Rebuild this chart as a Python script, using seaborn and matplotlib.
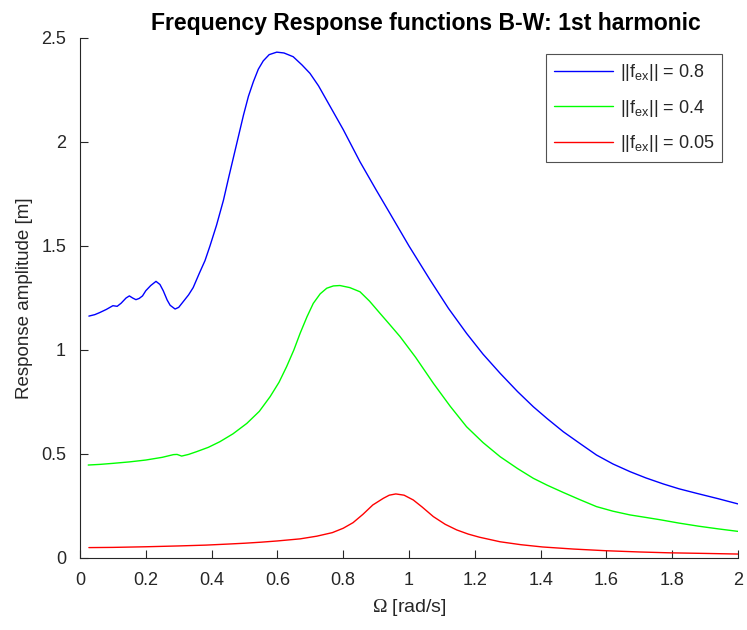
import matplotlib
matplotlib.use("Agg")
import matplotlib.pyplot as plt
import seaborn as sns
import pandas as pd

# ---- data ----
omega_blue = [0.027, 0.045, 0.06, 0.08, 0.10, 0.113, 0.125, 0.14, 0.15, 0.16, 0.17, 0.18,
              0.19, 0.20, 0.215, 0.231, 0.243, 0.253, 0.265, 0.274, 0.289, 0.30, 0.314,
              0.33, 0.344, 0.363, 0.38, 0.395, 0.415, 0.436, 0.452, 0.467, 0.482, 0.497,
              0.512, 0.527, 0.542, 0.557, 0.575, 0.598, 0.62, 0.648, 0.675, 0.699, 0.725,
              0.75, 0.775, 0.80, 0.851, 0.90, 0.942, 1.0, 1.064, 1.12, 1.175, 1.225,
              1.277, 1.33, 1.378, 1.42, 1.469, 1.52, 1.570, 1.62, 1.672, 1.72, 1.773,
              1.82, 1.874, 1.94, 2.0]
amp_blue = [1.163, 1.170, 1.18, 1.195, 1.213, 1.21, 1.225, 1.25, 1.26, 1.25, 1.242, 1.248,
            1.26, 1.285, 1.31, 1.33, 1.315, 1.285, 1.24, 1.215, 1.197, 1.205, 1.233,
            1.265, 1.30, 1.37, 1.43, 1.50, 1.60, 1.72, 1.83, 1.93, 2.03, 2.13,
            2.22, 2.29, 2.35, 2.39, 2.42, 2.432, 2.428, 2.41, 2.37, 2.33, 2.27,
            2.20, 2.13, 2.06, 1.905, 1.77, 1.657, 1.50, 1.337, 1.20, 1.08, 0.98,
            0.888, 0.80, 0.727, 0.67, 0.607, 0.55, 0.495, 0.452, 0.415, 0.385, 0.356,
            0.333, 0.311, 0.285, 0.26]

omega_green = [0.025, 0.06, 0.10, 0.15, 0.20, 0.25, 0.284, 0.295, 0.309, 0.33, 0.354, 0.39,
               0.425, 0.465, 0.507, 0.545, 0.578, 0.605, 0.628, 0.65, 0.669, 0.69, 0.709,
               0.73, 0.75, 0.77, 0.79, 0.82, 0.851, 0.88, 0.912, 0.94, 0.973, 1.02, 1.074,
               1.125, 1.175, 1.225, 1.277, 1.33, 1.378, 1.42, 1.469, 1.52, 1.570, 1.62,
               1.672, 1.72, 1.763, 1.82, 1.88, 1.94, 2.0]
amp_green = [0.447, 0.450, 0.455, 0.462, 0.471, 0.484, 0.497, 0.498, 0.49, 0.498, 0.511, 0.532,
             0.559, 0.597, 0.647, 0.705, 0.776, 0.845, 0.92, 1.00, 1.08, 1.16, 1.224,
             1.27, 1.297, 1.308, 1.31, 1.30, 1.28, 1.235, 1.176, 1.125, 1.064, 0.965, 0.84,
             0.73, 0.631, 0.555, 0.487, 0.43, 0.383, 0.35, 0.315, 0.28, 0.247, 0.225,
             0.207, 0.195, 0.184, 0.168, 0.153, 0.14, 0.128]

omega_red = [0.027, 0.1, 0.2, 0.3, 0.383, 0.45, 0.5, 0.55, 0.6, 0.669, 0.72, 0.767, 0.80,
             0.83, 0.86, 0.89, 0.922, 0.94, 0.96, 0.985, 1.013, 1.04, 1.074, 1.11, 1.145,
             1.18, 1.214, 1.277, 1.34, 1.406, 1.5, 1.598, 1.7, 1.789, 1.9, 2.0]
amp_red = [0.05, 0.051, 0.054, 0.058, 0.062, 0.067, 0.071, 0.076, 0.082, 0.092, 0.105, 0.122,
           0.143, 0.17, 0.21, 0.255, 0.287, 0.302, 0.308, 0.302, 0.279, 0.245, 0.199, 0.162,
           0.135, 0.115, 0.10, 0.078, 0.064, 0.053, 0.043, 0.035, 0.029, 0.025, 0.022, 0.019]

labels = [r"$\mathregular{||f_{ex}||}$ = 0.8",
          r"$\mathregular{||f_{ex}||}$ = 0.4",
          r"$\mathregular{||f_{ex}||}$ = 0.05"]
colors = ["#0000ff", "#00ff00", "#ff0000"]

x_ticks = [0, 0.2, 0.4, 0.6, 0.8, 1, 1.2, 1.4, 1.6, 1.8, 2]
x_tick_labels = ["0", "0.2", "0.4", "0.6", "0.8", "1", "1.2", "1.4", "1.6", "1.8", "2"]
y_ticks = [0, 0.5, 1, 1.5, 2, 2.5]
y_tick_labels = ["0", "0.5", "1", "1.5", "2", "2.5"]

frames = []
for om, amp, lab in [(omega_blue, amp_blue, labels[0]),
                     (omega_green, amp_green, labels[1]),
                     (omega_red, amp_red, labels[2])]:
    frames.append(pd.DataFrame({"omega": om, "amp": amp, "series": lab}))
df = pd.concat(frames, ignore_index=True)

sns.set_theme(style="white")
plt.rcParams["font.family"] = ["Liberation Sans", "DejaVu Sans"]
plt.rcParams["mathtext.fontset"] = "custom"
plt.rcParams["mathtext.rm"] = "Liberation Sans"
plt.rcParams["mathtext.cal"] = "Liberation Serif"

fig = plt.figure(figsize=(7.47, 6.30), dpi=100)
ax = fig.add_axes([80 / 747, 72 / 630, 658 / 747, 520 / 630])

sns.lineplot(data=df, x="omega", y="amp", hue="series", palette=colors,
             hue_order=labels, sort=False, estimator=None, linewidth=1.0, ax=ax)

ax.set_xlim(0, 2)
ax.set_ylim(0, 2.5)
ax.set_xticks(x_ticks)
ax.set_xticklabels(x_tick_labels)
ax.set_yticks(y_ticks)
ax.set_yticklabels(y_tick_labels)

axis_col = "#262626"
for s in ["top", "right"]:
    ax.spines[s].set_visible(False)
for s in ["left", "bottom"]:
    ax.spines[s].set_color(axis_col)
    ax.spines[s].set_linewidth(0.8)
ax.tick_params(bottom=True, left=True, direction="in", length=6, width=0.8,
               colors=axis_col, labelsize=13, labelcolor="#262626")
ax.tick_params(axis="x", pad=10)
ax.tick_params(axis="y", pad=10)

ax.set_xlabel(r"$\mathcal{Ω}$ [rad/s]", fontsize=14, color="#262626", labelpad=6)
ax.set_ylabel("Response amplitude [m]", fontsize=13.5, color="#262626", labelpad=6)
ax.set_title("Frequency Response functions B-W: 1st harmonic", fontsize=16.6,
             fontweight="bold", color="black", x=0.526, pad=6)

leg = ax.legend(loc="upper right", bbox_to_anchor=(0.976, 0.969), borderaxespad=0,
                fontsize=13, frameon=True, fancybox=False, shadow=False, borderpad=0.45,
                handlelength=3.3, handletextpad=0.35, labelspacing=0.8)
leg.get_frame().set_edgecolor("#262626")
leg.get_frame().set_linewidth(0.8)
leg.set_title(None)

fig.savefig("out.png", dpi=100)
